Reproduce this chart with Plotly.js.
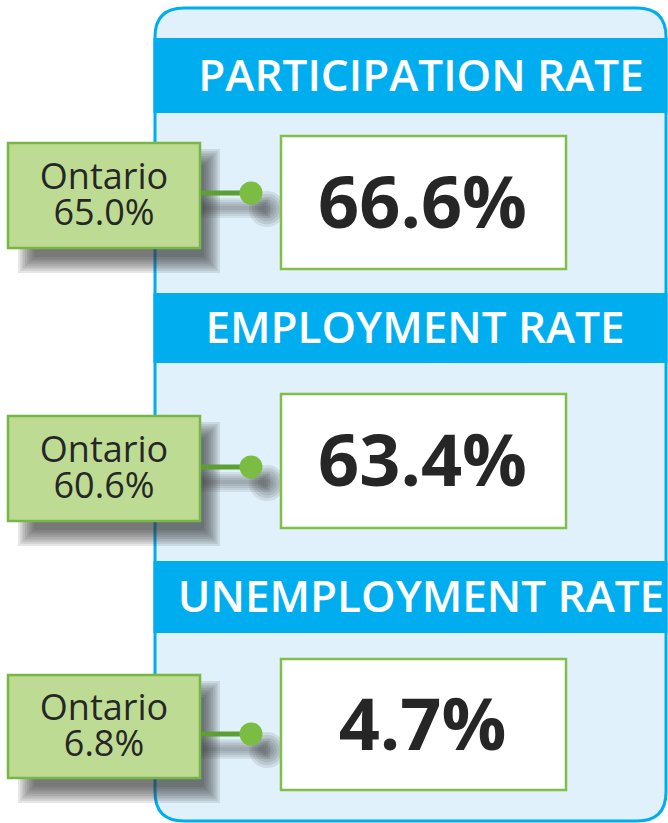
<!DOCTYPE html>
<html>
<head>
<meta charset="utf-8">
<script src="https://cdn.plot.ly/plotly-3.0.1.min.js"></script>
<style>html,body{margin:0;padding:0;background:#fff;}#chart{width:668px;height:823px;}</style>
</head>
<body>
<div id="chart"></div>
<script>
// ---- data ----
const categories = ['PARTICIPATION RATE', 'EMPLOYMENT RATE', 'UNEMPLOYMENT RATE'];
const values = [66.6, 63.4, 4.7];
const ontarioLabel = ['Ontario', 'Ontario', 'Ontario'];
const ontarioValues = [65.0, 60.6, 6.8];

// ---- layout geometry (pixels, y downward) ----
const G = {
  panel: {x0: 155, x1: 666, y0: 8, y1: 821, r: 29},
  band: {top: [38, 293, 561], bottom: [113, 363, 633], textX: [421, 415, 421]},
  white: {x0: 281, x1: 566, top: [136, 394, 659], bottom: [269, 528, 790]},
  green: {x0: 8, x1: 200, top: [143, 416, 675], bottom: [248, 521, 778], cx: 104},
  dot: {x: 251, y: [193, 467, 734]},
  nameDy: -17, valDy: 19
};
const C = {
  blue: '#00aeef', panelFill: '#e0f1fb', greenFill: '#bddb93', greenLine: '#78b746',
  whiteLine: '#80c04a', dot: '#7abd42', conn: '#5d9e35', text: '#262626', shadow: '#333333'
};

const shapes = [];
const P = G.panel;
shapes.push({type: 'path', layer: 'below',
  path: `M ${P.x0},${P.y0 + P.r} Q ${P.x0},${P.y0} ${P.x0 + P.r},${P.y0} L ${P.x1 - P.r},${P.y0} Q ${P.x1},${P.y0} ${P.x1},${P.y0 + P.r} L ${P.x1},${P.y1 - P.r} Q ${P.x1},${P.y1} ${P.x1 - P.r},${P.y1} L ${P.x0 + P.r},${P.y1} Q ${P.x0},${P.y1} ${P.x0},${P.y1 - P.r} Z`,
  fillcolor: C.panelFill, line: {color: C.blue, width: 3}});

categories.forEach((c, i) => {
  shapes.push({type: 'rect', layer: 'below', x0: P.x0 - 1.5, x1: P.x1 + 1.5, y0: G.band.top[i], y1: G.band.bottom[i],
    fillcolor: C.blue, line: {width: 0}});
});

// soft shadows (layered translucent shapes)
function softRect(x0, y0, x1, y1, steps, spread, op) {
  for (let k = 0; k < steps; k++) {
    const e = spread * (k / (steps - 1)) - spread / 2;
    shapes.push({type: 'rect', layer: 'below', x0: x0 - e, x1: x1 + e, y0: y0 - e, y1: y1 + e,
      fillcolor: C.shadow, opacity: op, line: {width: 0}});
  }
}
function softCircle(cx, cy, r, steps, spread, op) {
  for (let k = 0; k < steps; k++) {
    const e = spread * (k / (steps - 1)) - spread / 2;
    shapes.push({type: 'circle', layer: 'below', x0: cx - r - e, x1: cx + r + e, y0: cy - r - e, y1: cy + r + e,
      fillcolor: C.shadow, opacity: op, line: {width: 0}});
  }
}
categories.forEach((c, i) => {
  softRect(G.green.x0 + 18, G.green.top[i] + 14, G.green.x1 + 12, G.green.bottom[i] + 17, 8, 16, 0.12);
  softRect(G.green.x1, G.dot.y[i] + 10, G.dot.x + 14, G.dot.y[i] + 20, 6, 10, 0.09);
  softCircle(G.dot.x + 16, G.dot.y[i] + 16, 11, 6, 14, 0.11);
});

categories.forEach((c, i) => {
  shapes.push({type: 'rect', layer: 'below', x0: G.green.x0, x1: G.green.x1, y0: G.green.top[i], y1: G.green.bottom[i],
    fillcolor: C.greenFill, line: {color: C.greenLine, width: 2.5}});
  shapes.push({type: 'line', layer: 'below', x0: G.green.x1 + 1, x1: G.dot.x, y0: G.dot.y[i], y1: G.dot.y[i],
    line: {color: C.conn, width: 5}});
  shapes.push({type: 'rect', layer: 'below', x0: G.white.x0, x1: G.white.x1, y0: G.white.top[i], y1: G.white.bottom[i],
    fillcolor: '#ffffff', line: {color: C.whiteLine, width: 2.5}});
});

const bandMid = categories.map((c, i) => (G.band.top[i] + G.band.bottom[i]) / 2 + 4);
const whiteMid = categories.map((c, i) => (G.white.top[i] + G.white.bottom[i]) / 2 + 7);
const whiteCx = (G.white.x0 + G.white.x1) / 2;
const greenMid = categories.map((c, i) => (G.green.top[i] + G.green.bottom[i]) / 2 + 1);

const traces = [
  {type: 'scatter', mode: 'text', x: G.band.textX, y: bandMid, text: categories,
   textfont: {family: 'Open Sans, sans-serif', size: 44, color: '#ffffff', weight: 600},
   textposition: 'middle center', cliponaxis: false, hoverinfo: 'skip'},
  {type: 'scatter', mode: 'text', x: categories.map(() => whiteCx - 1), y: whiteMid,
   text: values.map(v => v.toFixed(1) + '%'),
   textfont: {family: 'Open Sans, sans-serif', size: 72, color: C.text, weight: 700},
   textposition: 'middle center', cliponaxis: false, hoverinfo: 'skip'},
  {type: 'scatter', mode: 'text', x: categories.map(() => G.green.cx), y: greenMid.map(y => y + G.nameDy),
   text: ontarioLabel,
   textfont: {family: 'Open Sans, sans-serif', size: 36, color: C.text},
   textposition: 'middle center', cliponaxis: false, hoverinfo: 'skip'},
  {type: 'scatter', mode: 'text', x: categories.map(() => G.green.cx), y: greenMid.map(y => y + G.valDy),
   text: ontarioValues.map(v => v.toFixed(1) + '%'),
   textfont: {family: 'Open Sans, sans-serif', size: 36, color: C.text},
   textposition: 'middle center', cliponaxis: false, hoverinfo: 'skip'},
  {type: 'scatter', mode: 'markers', x: categories.map(() => G.dot.x), y: G.dot.y,
   marker: {size: 23, color: C.dot, line: {width: 0}}, cliponaxis: false, hoverinfo: 'skip'}
];

const layout = {
  width: 668, height: 823, margin: {l: 0, r: 0, t: 0, b: 0},
  paper_bgcolor: '#ffffff', plot_bgcolor: 'rgba(0,0,0,0)', showlegend: false,
  xaxis: {range: [0, 668], visible: false, fixedrange: true},
  yaxis: {range: [823, 0], visible: false, fixedrange: true},
  shapes: shapes, hovermode: false
};
Plotly.newPlot('chart', traces, layout, {displayModeBar: false, staticPlot: true});
</script>
</body>
</html>
